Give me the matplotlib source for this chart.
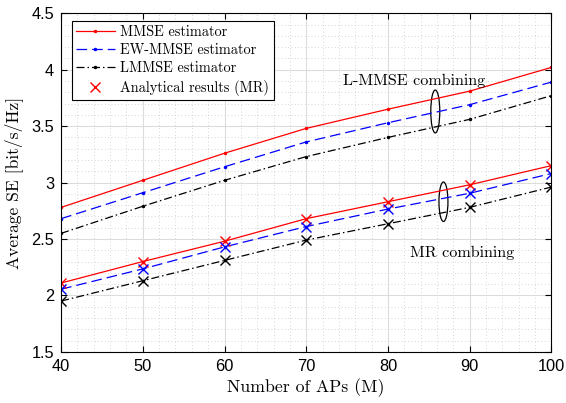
import matplotlib
matplotlib.use("Agg")
import matplotlib.pyplot as plt
from matplotlib.patches import Ellipse
from matplotlib.ticker import MultipleLocator, FormatStrFormatter

# Number of APs
aps = [40, 50, 60, 70, 80, 90, 100]

# L-MMSE combining
lmmse_comb_mmse = [2.78, 3.02, 3.26, 3.48, 3.65, 3.81, 4.02]
lmmse_comb_ew = [2.68, 2.91, 3.14, 3.36, 3.53, 3.69, 3.89]
lmmse_comb_lmmse = [2.55, 2.79, 3.02, 3.23, 3.40, 3.56, 3.77]

# MR combining (simulated)
mr_mmse = [2.11, 2.30, 2.48, 2.68, 2.83, 2.98, 3.15]
mr_ew = [2.055, 2.235, 2.43, 2.61, 2.765, 2.905, 3.08]
mr_lmmse = [1.95, 2.13, 2.31, 2.49, 2.635, 2.78, 2.96]

# MR combining (analytical)
an_mmse = [2.11, 2.30, 2.48, 2.68, 2.83, 2.98, 3.15]
an_ew = [2.055, 2.235, 2.43, 2.61, 2.765, 2.905, 3.08]
an_lmmse = [1.95, 2.13, 2.31, 2.49, 2.635, 2.78, 2.96]

SERIF = "cmr10"
TICKFONT = "Liberation Sans"

fig = plt.figure(figsize=(5.66, 4.03), dpi=100)
ax = fig.add_axes([0.108, 0.127, 0.866, 0.840])

lw = 0.9
ms = 3
dash = (0, (8.5, 4))
dashdot = (0, (6.4, 2.4, 1.2, 2.4))
ax.plot(aps, lmmse_comb_mmse, color="red", ls="-", lw=lw, marker=".", ms=ms, label="MMSE estimator")
ax.plot(aps, lmmse_comb_ew, color="blue", ls=dash, lw=lw, marker=".", ms=ms, label="EW-MMSE estimator")
ax.plot(aps, lmmse_comb_lmmse, color="black", ls=dashdot, lw=lw, marker=".", ms=ms, label="LMMSE estimator")
ax.plot(aps, mr_mmse, color="red", ls="-", lw=lw, marker=".", ms=ms)
ax.plot(aps, mr_ew, color="blue", ls=dash, lw=lw, marker=".", ms=ms)
ax.plot(aps, mr_lmmse, color="black", ls=dashdot, lw=lw, marker=".", ms=ms)

ax.plot(aps, an_mmse, ls="none", marker="x", color="red", ms=7, mew=1.0, label="Analytical results (MR)")
ax.plot(aps, an_ew, ls="none", marker="x", color="blue", ms=7, mew=1.0)
ax.plot(aps, an_lmmse, ls="none", marker="x", color="black", ms=7, mew=1.0)

ax.add_patch(Ellipse((85.8, 3.63), 1.1, 0.38, fill=False, color="black", lw=0.9))
ax.add_patch(Ellipse((86.8, 2.83), 1.1, 0.35, fill=False, color="black", lw=0.9))
ax.text(83.2, 3.9, "L-MMSE combining", fontfamily=SERIF, fontsize=11.6, ha="center", va="center")
ax.text(89.1, 2.38, "MR combining", fontfamily=SERIF, fontsize=11.6, ha="center", va="center")

ax.set_xlim(40, 100)
ax.set_ylim(1.5, 4.5)
ax.xaxis.set_major_locator(MultipleLocator(10))
ax.xaxis.set_minor_locator(MultipleLocator(2))
ax.yaxis.set_major_locator(MultipleLocator(0.5))
ax.yaxis.set_minor_locator(MultipleLocator(0.1))
ax.xaxis.set_major_formatter(FormatStrFormatter("%g"))
ax.yaxis.set_major_formatter(FormatStrFormatter("%g"))
ax.tick_params(which="both", direction="in", top=True, right=True, labelsize=11.8)
ax.tick_params(which="minor", length=0)
ax.tick_params(which="major", length=4, pad=5)
for lab in ax.get_xticklabels() + ax.get_yticklabels():
    lab.set_fontfamily(TICKFONT)
ax.grid(True, which="major", color="#dcdcdc", lw=0.8)
ax.grid(True, which="minor", color="#c8c8c8", ls=(0, (1, 3)), lw=0.6)
ax.set_axisbelow(True)

ax.set_xlabel("Number of APs (M)", fontfamily=SERIF, fontsize=12.8, labelpad=3)
ax.set_ylabel("Average SE [bit/s/Hz]", fontfamily=SERIF, fontsize=12.6, labelpad=6)

leg = ax.legend(loc="upper left", bbox_to_anchor=(0.016, 0.985), prop={"family": SERIF, "size": 10.3},
                fancybox=False, edgecolor="black", framealpha=1, handlelength=2.7,
                borderpad=0.3, labelspacing=0.3, handletextpad=0.4, borderaxespad=0.2)
leg.get_frame().set_linewidth(0.8)

fig.savefig("out.png", dpi=100)
